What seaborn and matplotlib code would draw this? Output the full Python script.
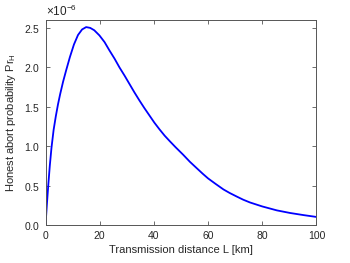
import numpy as np
import pandas as pd
import matplotlib
matplotlib.use("Agg")
import matplotlib.pyplot as plt
import seaborn as sns
from matplotlib.ticker import ScalarFormatter

# values (probability in units of 1e-6)
distance_km = [0, 0.5, 1.0, 1.6, 2.2, 3.0, 3.8, 4.6, 5.4, 6.5, 7.6, 9.0, 10.5, 12.0,
               13.5, 15.0, 16.5, 18.0, 19.9, 21.8, 23.6, 25.5, 27.3, 29.2, 31.0,
               32.8, 34.7, 36.5, 38.4, 40.2, 42.1, 44.0, 45.9, 48.0, 50.8, 53.3,
               55.8, 58.0, 60.0, 62.8, 65.7, 68.0, 70.6, 73.0, 75.5, 80.0, 85.4,
               90.3, 95.3, 100.0]
abort_prob_e6 = [0, 0.26, 0.5, 0.76, 0.98, 1.21, 1.38, 1.53, 1.66, 1.82, 1.96, 2.13,
                 2.29, 2.41, 2.48, 2.51, 2.50, 2.47, 2.405, 2.32, 2.215, 2.11, 2.00,
                 1.895, 1.79, 1.685, 1.58, 1.485, 1.39, 1.30, 1.215, 1.135, 1.065,
                 0.99, 0.895, 0.805, 0.725, 0.655, 0.595, 0.525, 0.455, 0.41, 0.365,
                 0.325, 0.29, 0.24, 0.19, 0.157, 0.13, 0.107]

df = pd.DataFrame({"L": distance_km,
                   "Pr": np.array(abort_prob_e6) * 1e-6})

sns.set_style("white")
plt.rcParams["font.family"] = ["Liberation Sans", "DejaVu Sans"]
plt.rcParams["mathtext.fontset"] = "custom"
plt.rcParams["mathtext.rm"] = "Liberation Sans"
plt.rcParams["mathtext.it"] = "Liberation Sans"

fig = plt.figure(figsize=(3.5, 2.63), dpi=100)
ax = fig.add_axes([0.130, 0.143, 0.774, 0.781])

sns.lineplot(data=df, x="L", y="Pr", color="#0000ff", lw=1.3, ax=ax)

ax.set_xlim(0, 100)
ax.set_ylim(0, 2.6e-6)
ax.set_xticks([0, 20, 40, 60, 80, 100])
ax.set_yticks(np.array([0, 0.5, 1, 1.5, 2, 2.5]) * 1e-6)

fmt = ScalarFormatter(useMathText=True)
fmt.set_powerlimits((0, 0))
ax.yaxis.set_major_formatter(fmt)
ax.yaxis.get_offset_text().set_fontsize(8.5)
ax.yaxis.get_offset_text().set_color("#262626")

grey = "#262626"
for s in ax.spines.values():
    s.set_color("#555555")
    s.set_linewidth(0.7)
ax.tick_params(direction="in", length=3, width=0.6, colors="#555555",
               labelcolor=grey, labelsize=7.5, top=True, right=True,
               bottom=True, left=True, pad=4)

ax.set_xlabel("Transmission distance L [km]", fontsize=8, color=grey, labelpad=3)
ax.set_ylabel(r"Honest abort probability Pr$_\mathrm{H}$", fontsize=8, color=grey,
              labelpad=4)

fig.savefig("out.png", dpi=100)
